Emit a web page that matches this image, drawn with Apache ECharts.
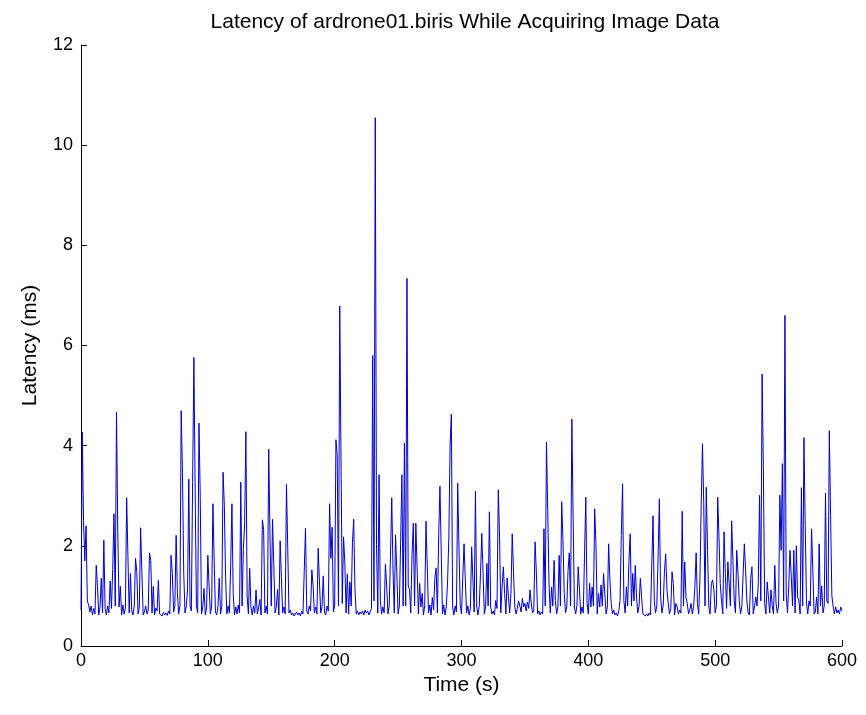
<!DOCTYPE html>
<html>
<head>
<meta charset="utf-8">
<script src="https://cdn.jsdelivr.net/npm/echarts@6/dist/echarts.min.js"></script>
<style>html,body{margin:0;padding:0;background:#fff;}#c{width:866px;height:715px;}</style>
</head>
<body>
<div id="c"></div>
<script>
// Latency (ms), one sample per second
var lat000 = [
0.72,4.27,2.5,1.7,2.4,0.9,0.82,0.68,0.8,0.62,
0.75,0.64,1.61,1.19,0.62,0.78,1.35,0.66,2.11,0.75,
0.62,0.8,0.66,1.3,0.75,1.53,2.64,0.8,4.67,2.28,
0.78,1.19,0.62,0.82,0.64,0.75,2.96,1.79,0.66,1.45,
0.7,0.62,0.8,1.75,1.48,0.64,0.78,2.36,1.48,0.62,
0.68,0.8,0.64,0.72,1.86,1.71,0.66,1.19,0.62,0.76,
0.7,1.31,0.64,0.66,0.6,0.67,0.62,0.66,0.61,0.7,
0.64,1.81,1.45,0.68,0.8,2.21,1.05,0.64,0.8,4.7,
3.47,1.45,0.66,0.8,1.12,3.33,0.8,0.7,3.27,5.76,
3.15,0.8,0.66,4.45,3.02,0.64,0.78,1.15,0.62,0.76];
var lat100 = [
1.81,1.19,0.64,0.78,2.84,1.71,0.68,0.62,0.8,1.35,
0.64,0.78,3.47,2.82,1.37,0.64,0.8,0.66,1.58,2.84,
1.05,0.62,0.78,0.64,0.82,0.66,3.27,0.8,1.94,2.42,
4.28,0.98,0.64,1.55,0.78,0.62,0.8,0.66,1.12,0.64,
0.76,0.93,0.62,2.52,2.33,0.66,0.8,0.64,3.93,2.22,
0.8,2.53,1.63,0.66,0.78,1.13,0.62,2.1,1.36,0.66,
0.78,0.64,3.23,1.95,0.66,0.72,0.62,0.66,0.6,0.64,
0.68,0.62,0.66,0.6,0.7,0.64,1.48,2.35,0.7,0.64,
0.8,0.7,1.52,1.2,0.66,0.78,0.64,1.95,1.28,0.66,
0.78,1.4,0.66,0.62,0.8,0.7,2.84,1.75,2.37,0.68];
var lat200 = [
0.8,4.12,3.81,0.8,6.79,3.77,0.85,2.18,1.67,0.66,
1.44,0.64,1.28,0.8,2.06,2.53,1.13,0.64,0.7,0.62,
0.68,0.64,0.7,0.62,0.72,0.66,0.7,0.62,0.68,0.75,
5.8,0.9,10.55,2.02,0.66,3.42,0.9,0.64,0.78,0.66,
1.63,1.2,0.64,0.8,1.79,2.96,1.52,0.66,2.22,1.48,
0.64,0.8,2.06,3.42,0.8,4.05,0.8,7.34,1.2,1.13,
0.66,1.83,2.45,0.8,2.45,1.56,0.64,1.25,0.78,1.05,
0.62,0.8,2.49,1.6,0.66,0.82,0.62,0.97,0.72,1.36,
1.56,0.66,2.18,3.19,1.9,0.64,0.82,0.62,0.78,1.28,
2.14,4.0,4.63,0.78,0.62,0.8,0.68,3.25,1.98,0.82];
var lat300 = [
0.64,1.37,2.04,1.32,0.66,0.8,0.62,0.75,1.98,2.01,
0.68,3.09,0.78,0.62,0.8,1.45,2.25,1.45,0.64,0.78,
1.65,0.8,2.68,0.78,0.64,0.7,0.62,0.91,0.75,3.12,
2.18,0.66,1.18,1.58,1.05,0.64,1.36,0.98,0.66,1.05,
2.24,1.48,0.78,0.64,0.75,0.9,0.8,0.68,0.95,0.78,
0.85,0.7,0.88,0.75,1.12,0.85,0.66,0.72,2.08,1.48,
0.64,0.7,0.62,0.68,0.64,2.34,0.8,4.07,2.71,1.25,
0.66,1.18,0.8,1.71,0.91,0.64,0.78,1.81,0.8,2.88,
2.11,1.05,0.66,0.78,1.51,1.86,0.8,4.53,2.59,0.78,
0.64,0.8,1.58,1.12,0.64,0.78,0.66,1.81,2.97,0.85];
var lat400 = [
0.64,1.25,0.78,1.18,0.8,2.74,2.04,0.64,1.05,0.78,
1.22,0.8,1.45,1.05,0.64,0.78,2.04,1.32,0.85,0.64,
0.72,0.62,0.66,0.6,0.7,0.91,2.21,3.24,0.91,0.66,
1.18,0.8,1.68,2.24,0.8,1.45,0.9,1.61,0.98,0.66,
0.8,1.35,0.98,0.64,0.66,0.6,0.64,0.6,0.66,0.62,
1.61,2.6,0.9,0.66,0.8,1.78,2.94,0.98,0.66,0.8,
1.48,1.84,1.12,0.85,0.64,0.75,1.48,1.25,0.62,0.85,
0.78,0.64,0.72,0.66,2.69,0.8,1.68,0.98,0.85,0.64,
0.72,0.85,0.64,0.78,1.18,1.86,0.85,0.64,1.35,2.83,
4.04,2.84,0.8,3.17,1.91,0.78,0.64,1.25,1.32,1.12];
var lat500 = [
0.66,0.8,2.97,2.18,1.25,0.9,0.64,2.28,1.45,0.75,
1.68,1.25,0.8,2.5,1.71,0.9,0.66,1.91,1.45,0.9,
0.64,0.78,0.8,2.04,1.52,0.9,0.66,0.62,1.35,1.58,
0.64,0.78,0.98,0.8,1.25,3.01,0.9,5.43,3.54,0.85,
0.64,1.28,0.98,0.66,1.12,0.8,0.64,1.61,0.85,0.66,
0.8,3.01,1.91,3.64,0.9,6.6,1.05,0.66,1.18,1.91,
1.38,0.8,1.91,0.66,2.0,0.98,0.9,0.64,3.16,0.8,
4.16,2.41,0.85,0.64,0.9,0.8,2.34,1.52,0.64,0.68,
0.98,0.64,2.04,0.8,1.2,0.66,0.8,3.05,0.9,0.85,
4.3,2.6,1.0,0.8,0.64,0.78,0.66,0.72,0.64,0.78,
0.7];
var timeStep = 1; // seconds between samples
var xTicks = [0, 100, 200, 300, 400, 500, 600];
var yTicks = [0, 2, 4, 6, 8, 10, 12];

var latency = [].concat(lat000, lat100, lat200, lat300, lat400, lat500);
var seriesData = latency.map(function (v, i) { return [i * timeStep, v]; });

var FONT = '"Liberation Sans", Arial, sans-serif';
var chart = echarts.init(document.getElementById('c'), null, {renderer: 'canvas'});
chart.setOption({
  animation: false,
  backgroundColor: '#ffffff',
  title: {
    text: 'Latency of ardrone01.biris While Acquiring Image Data',
    left: 460, top: 7, textAlign: 'center',
    textStyle: {fontFamily: FONT, fontSize: 21, fontWeight: 'normal', color: '#000'}
  },
  grid: {left: 81, right: 24, top: 45, bottom: 69, containLabel: false},
  xAxis: {
    type: 'value', min: xTicks[0], max: xTicks[xTicks.length - 1], interval: 100,
    name: 'Time (s)', nameLocation: 'middle', nameGap: 29,
    nameTextStyle: {fontFamily: FONT, fontSize: 21, color: '#000'},
    axisLine: {show: true, onZero: false, lineStyle: {color: '#000', width: 1}},
    axisTick: {show: true, inside: true, length: 6, lineStyle: {color: '#000'}},
    axisLabel: {fontFamily: FONT, fontSize: 18, color: '#000', margin: 6},
    splitLine: {show: false}
  },
  yAxis: {
    type: 'value', min: yTicks[0], max: yTicks[yTicks.length - 1], interval: 2,
    name: 'Latency (ms)', nameLocation: 'middle', nameGap: 40,
    nameTextStyle: {fontFamily: FONT, fontSize: 21, color: '#000'},
    axisLine: {show: true, lineStyle: {color: '#000', width: 1}},
    axisTick: {show: true, inside: true, length: 6, lineStyle: {color: '#000'}},
    axisLabel: {fontFamily: FONT, fontSize: 18, color: '#000', margin: 8},
    splitLine: {show: false}
  },
  series: [{
    type: 'line', data: seriesData, showSymbol: false, symbol: 'none',
    lineStyle: {color: '#0000cc', width: 1},
    itemStyle: {color: '#0000cc'},
    clip: true
  }]
});
</script>
</body>
</html>
